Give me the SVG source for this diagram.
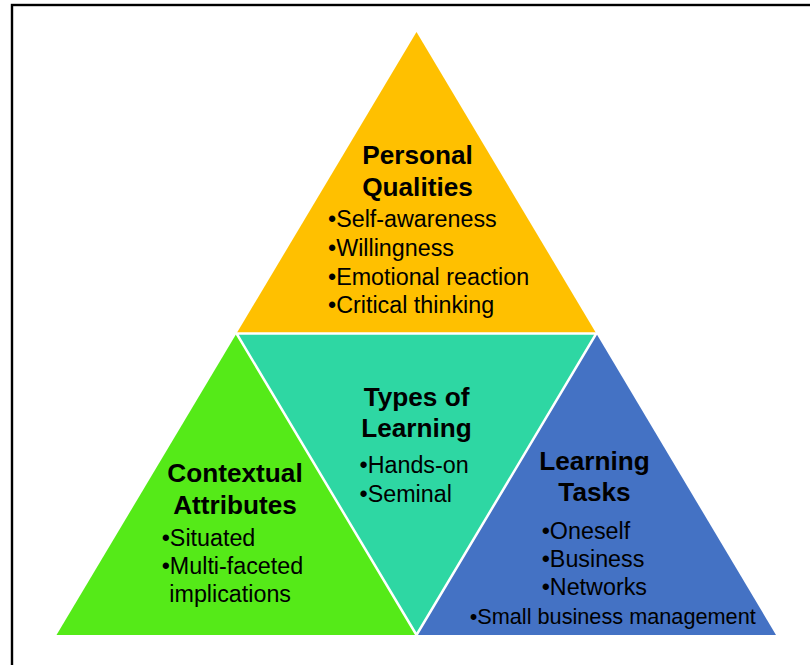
<svg xmlns="http://www.w3.org/2000/svg" width="810" height="665" viewBox="0 0 810 665">
<style>
  .t { font-family: "Liberation Sans", Arial, sans-serif; fill: #000; }
  .h { font-size: 26.2px; font-weight: bold; text-anchor: middle; }
  .b { font-size: 23.3px; }
  .sep { fill: #2ED7A3; stroke: #FFFFFF; stroke-width: 2.5; stroke-linejoin: miter; }
</style>
<rect x="0" y="0" width="810" height="665" fill="#FFFFFF"/>
<rect x="12" y="5" width="820" height="700" fill="none" stroke="#000" stroke-width="2.4"/>

<g id="personal-qualities">
  <polygon points="416.5,32 596.3,333.5 236.5,333.5" fill="#FFC000"/>
</g>
<g id="contextual-attributes">
  <polygon points="236.5,333.5 416.5,635 56.5,635" fill="#55EA18"/>
</g>
<g id="learning-tasks">
  <polygon points="596.3,333.5 776,635 416.5,635" fill="#4472C4"/>
</g>
<g id="types-of-learning">
  <polygon class="sep" points="236.5,333.5 596.3,333.5 416.5,635"/>
</g>

<g id="connectors"></g>

<g id="labels-personal">
  <text class="t h" x="417.5" y="164">Personal</text>
  <text class="t h" x="417.5" y="196">Qualities</text>
  <text class="t b" x="328" y="226.5">•Self-awareness</text>
  <text class="t b" x="328" y="255.5">•Willingness</text>
  <text class="t b" x="328" y="284.5">•Emotional reaction</text>
  <text class="t b" x="328" y="313">•Critical thinking</text>
</g>
<g id="labels-types">
  <text class="t h" x="416.5" y="406">Types of</text>
  <text class="t h" x="416.5" y="437">Learning</text>
  <text class="t b" x="359.5" y="473">•Hands-on</text>
  <text class="t b" x="359.5" y="502">•Seminal</text>
</g>
<g id="labels-contextual">
  <text class="t h" x="235" y="482">Contextual</text>
  <text class="t h" x="235" y="514">Attributes</text>
  <text class="t b" x="161.7" y="545.5">•Situated</text>
  <text class="t b" x="161.7" y="574">•Multi-faceted</text>
  <text class="t b" x="169.3" y="601.5">implications</text>
</g>
<g id="labels-tasks">
  <text class="t h" x="594.5" y="469.5">Learning</text>
  <text class="t h" x="594.5" y="501">Tasks</text>
  <text class="t b" x="541.7" y="538.5">•Oneself</text>
  <text class="t b" x="541.7" y="567">•Business</text>
  <text class="t b" x="541.7" y="595">•Networks</text>
  <text class="t b" x="612.7" y="623.5" style="font-size:21.7px;text-anchor:middle">•Small business management</text>
</g>
</svg>
